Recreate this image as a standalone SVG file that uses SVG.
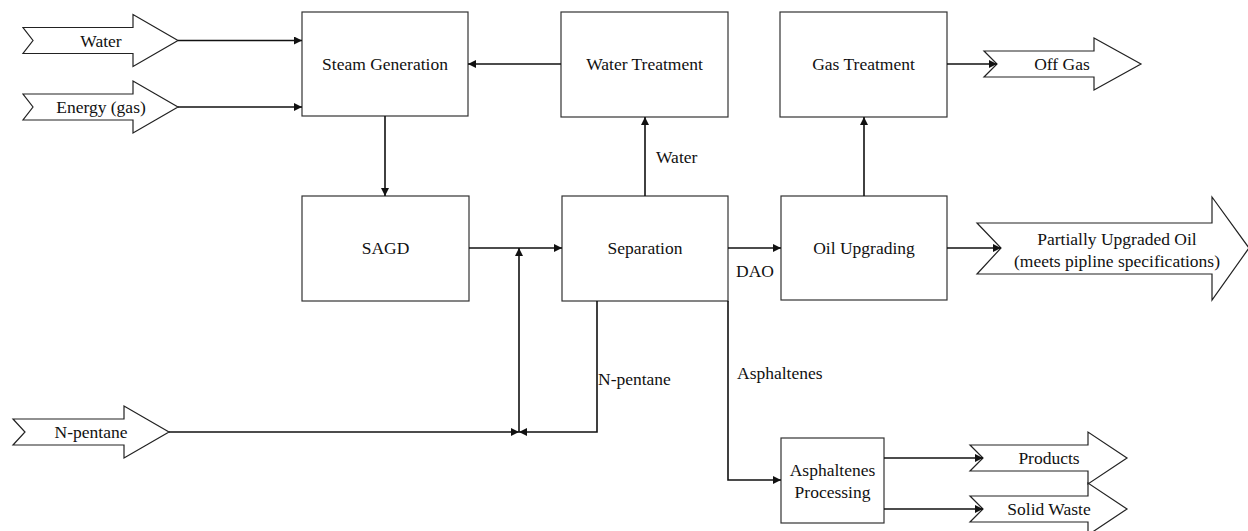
<svg xmlns="http://www.w3.org/2000/svg" width="1248" height="531" viewBox="0 0 1248 531" font-family="'Liberation Serif', 'DejaVu Serif', 'Times New Roman', serif">
<defs>
<style>
.box{fill:#fff;stroke:#333;stroke-width:1.2}
.flow{fill:#fff;stroke:#222;stroke-width:1.2;stroke-linejoin:miter}
.ln{fill:none;stroke:#111;stroke-width:1.6}
text{font-family:'Liberation Serif','DejaVu Serif','Times New Roman',serif;font-size:17.5px;fill:#111}
.c{text-anchor:middle;dominant-baseline:central}
.l{text-anchor:start;dominant-baseline:central}
</style>
<marker id="ah" viewBox="0 0 8 8" refX="8" refY="4" markerWidth="8" markerHeight="8" markerUnits="userSpaceOnUse" orient="auto">
<path d="M0,0 L8,4 L0,8 z" fill="#111"/>
</marker>
</defs>
<rect width="1248" height="531" fill="#fff"/>

<g id="water-in">
<path class="flow" d="M23,27.5 L133,27.5 L133,14.5 L178,40.5 L133,66.5 L133,53.5 L23,53.5 L33,40.5 Z"/>
<text class="c" x="101" y="40.5">Water</text>
</g>
<g id="energy-in">
<path class="flow" d="M23,94 L133,94 L133,81 L178,107 L133,133 L133,120 L23,120 L33,107 Z"/>
<text class="c" x="101" y="107">Energy (gas)</text>
</g>
<g id="npentane-in">
<path class="flow" d="M13,419 L124,419 L124,406 L169,432 L124,458 L124,445 L13,445 L25,432 Z"/>
<text class="c" x="91" y="432">N-pentane</text>
</g>

<g id="steam-generation">
<rect class="box" x="302" y="12" width="166" height="104"/>
<text class="c" x="385" y="64">Steam Generation</text>
</g>
<g id="water-treatment">
<rect class="box" x="561" y="12" width="167" height="105"/>
<text class="c" x="644.5" y="64">Water Treatment</text>
</g>
<g id="gas-treatment">
<rect class="box" x="780" y="12" width="167" height="105"/>
<text class="c" x="863.5" y="64">Gas Treatment</text>
</g>
<g id="off-gas">
<path class="flow" d="M984,51 L1094,51 L1094,38 L1141,64 L1094,90 L1094,77 L984,77 L997,64 Z"/>
<text class="c" x="1062" y="64">Off Gas</text>
</g>

<g id="sagd">
<rect class="box" x="302" y="196" width="167" height="105"/>
<text class="c" x="385.5" y="248">SAGD</text>
</g>
<g id="separation">
<rect class="box" x="562" y="196" width="166" height="105"/>
<text class="c" x="645" y="248">Separation</text>
</g>
<g id="oil-upgrading">
<rect class="box" x="781" y="196" width="166" height="104"/>
<text class="c" x="864" y="248">Oil Upgrading</text>
</g>
<g id="partially-upgraded-oil">
<path class="flow" d="M977,223 L1212,223 L1212,197 L1249,248 L1212,300 L1212,274 L977,274 L1001,248 Z"/>
<text class="c" x="1117" y="239">Partially Upgraded Oil</text>
<text class="c" x="1117" y="261">(meets pipline specifications)</text>
</g>

<g id="asphaltenes-processing">
<rect class="box" x="781" y="438" width="103" height="85"/>
<text class="c" x="832.5" y="470">Asphaltenes</text>
<text class="c" x="832.5" y="492">Processing</text>
</g>
<g id="products">
<path class="flow" d="M970,445 L1088,445 L1088,432 L1127,458 L1088,484 L1088,471 L970,471 L983,458 Z"/>
<text class="c" x="1049" y="458">Products</text>
</g>
<g id="solid-waste">
<path class="flow" d="M970,496 L1088,496 L1088,483 L1127,509 L1088,535 L1088,522 L970,522 L983,509 Z"/>
<text class="c" x="1049" y="509">Solid Waste</text>
</g>

<g id="connectors">
<path class="ln" d="M178,40.5 H302" marker-end="url(#ah)"/>
<path class="ln" d="M178,107 H302" marker-end="url(#ah)"/>
<path class="ln" d="M561,64 H468" marker-end="url(#ah)"/>
<path class="ln" d="M385,116 V196" marker-end="url(#ah)"/>
<path class="ln" d="M469,248 H562" marker-end="url(#ah)"/>
<path class="ln" d="M645,196 V117" marker-end="url(#ah)"/>
<path class="ln" d="M728,248 H781" marker-end="url(#ah)"/>
<path class="ln" d="M864,196 V117" marker-end="url(#ah)"/>
<path class="ln" d="M947,64 H997" marker-end="url(#ah)"/>
<path class="ln" d="M947,248 H1001" marker-end="url(#ah)"/>
<path class="ln" d="M169,432 H519" marker-end="url(#ah)"/>
<path class="ln" d="M597,301 V432 H519" marker-end="url(#ah)"/>
<path class="ln" d="M519,432 V248" marker-end="url(#ah)"/>
<path class="ln" d="M728,301 V480 H781" marker-end="url(#ah)"/>
<path class="ln" d="M884,458 H983" marker-end="url(#ah)"/>
<path class="ln" d="M884,509 H983" marker-end="url(#ah)"/>
<text class="l" x="656" y="157">Water</text>
<text class="l" x="736" y="271">DAO</text>
<text class="l" x="598" y="379">N-pentane</text>
<text class="l" x="737" y="373">Asphaltenes</text>
</g>
</svg>
